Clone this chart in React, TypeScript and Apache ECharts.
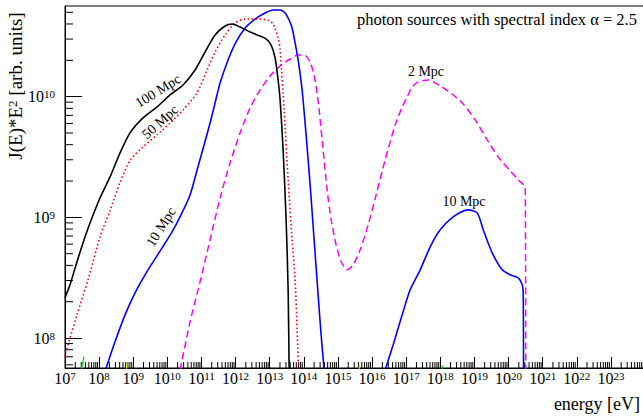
import React, { useEffect, useRef } from "react";
import * as echarts from "echarts";

// Axis ranges in log10 units
const X_MIN = 7;
const X_MAX = 24;
const Y_MIN = 7.752;
const Y_MAX = 10.751;

// Tick positions (log10 of the value)
const xMajorTicks = [7, 8, 9, 10, 11, 12, 13, 14, 15, 16, 17, 18, 19, 20, 21, 22, 23];
const yMajorTicks = [8, 9, 10];
const minorMultipliers = [2, 3, 4, 5, 6, 7, 8, 9];

// 100 Mpc (black, solid): log10 E [eV], log10 J*E^2
const mpc100LogE = [7.0, 7.147, 7.323, 7.528, 7.733, 8.026, 8.32, 8.613, 8.906, 9.287, 9.698, 10.079, 10.46, 10.812, 11.106, 11.399, 11.692, 11.897, 12.132, 12.425, 12.718, 12.894, 13.041, 13.158, 13.246, 13.305, 13.393, 13.481, 13.54, 13.569, 13.58];
const mpc100LogJ = [8.334, 8.441, 8.606, 8.788, 8.953, 9.16, 9.335, 9.534, 9.7, 9.824, 9.915, 10.014, 10.097, 10.221, 10.37, 10.511, 10.585, 10.602, 10.577, 10.536, 10.502, 10.478, 10.428, 10.32, 10.138, 9.973, 9.559, 8.979, 8.4, 7.754, 7.5];

// 50 Mpc (red, dotted)
const mpc50LogE = [7.0, 7.029, 7.352, 7.674, 8.026, 8.32, 8.613, 8.906, 9.287, 9.698, 10.079, 10.46, 10.871, 11.164, 11.399, 11.692, 11.985, 12.279, 12.66, 12.924, 13.1, 13.246, 13.305, 13.422, 13.54, 13.657, 13.745, 13.804, 13.848];
const mpc50LogJ = [7.845, 7.887, 8.193, 8.482, 8.839, 9.057, 9.29, 9.47, 9.584, 9.683, 9.782, 9.89, 10.031, 10.221, 10.37, 10.511, 10.61, 10.643, 10.643, 10.635, 10.602, 10.486, 10.387, 9.89, 9.31, 8.814, 8.482, 8.069, 7.7];

// 10 Mpc (blue, solid), low-energy bump
const mpc10aLogE = [8.188, 8.466, 8.76, 9.053, 9.434, 9.845, 10.138, 10.372, 10.666, 10.871, 11.076, 11.252, 11.399, 11.545, 11.78, 12.015, 12.279, 12.572, 12.865, 13.1, 13.305, 13.452, 13.569, 13.657, 13.745, 13.833, 13.95, 14.067, 14.185, 14.302, 14.419, 14.507, 14.595];
const mpc10aLogJ = [7.737, 7.969, 8.192, 8.375, 8.565, 8.747, 8.88, 9.004, 9.186, 9.393, 9.6, 9.782, 9.948, 10.113, 10.304, 10.453, 10.569, 10.643, 10.693, 10.718, 10.718, 10.693, 10.635, 10.569, 10.445, 10.304, 10.055, 9.683, 9.269, 8.814, 8.358, 8.028, 7.737];

// 10 Mpc (blue, solid), high-energy bump
const mpc10bLogE = [16.384, 16.619, 16.883, 17.117, 17.411, 17.704, 17.997, 18.378, 18.818, 19.082, 19.258, 19.522, 19.815, 20.05, 20.284, 20.402, 20.431, 20.44];
const mpc10bLogJ = [7.737, 7.944, 8.193, 8.4, 8.565, 8.756, 8.897, 9.004, 9.062, 9.037, 8.897, 8.706, 8.565, 8.524, 8.499, 8.441, 8.358, 7.7];

// 2 Mpc (magenta, dashed)
const mpc2LogE = [10.372, 10.666, 10.959, 11.252, 11.545, 11.839, 12.132, 12.425, 12.718, 13.012, 13.305, 13.598, 13.833, 14.009, 14.185, 14.331, 14.449, 14.566, 14.683, 14.801, 14.947, 15.094, 15.27, 15.446, 15.651, 15.886, 16.12, 16.384, 16.677, 16.883, 17.029, 17.176, 17.352, 17.645, 17.997, 18.349, 18.672, 19.023, 19.375, 19.698, 20.05, 20.284, 20.49, 20.504];
const mpc2LogJ = [7.737, 8.135, 8.466, 8.814, 9.161, 9.451, 9.699, 9.906, 10.055, 10.171, 10.254, 10.312, 10.345, 10.345, 10.287, 10.138, 9.89, 9.559, 9.228, 8.98, 8.772, 8.632, 8.565, 8.607, 8.731, 8.938, 9.186, 9.476, 9.766, 9.914, 9.998, 10.08, 10.122, 10.138, 10.089, 10.022, 9.939, 9.807, 9.642, 9.501, 9.386, 9.311, 9.245, 7.7];

// Faint curves just peeking above the lower edge
const greenLogE = [7.45, 7.557];
const greenLogJ = [7.7, 7.846];
const green2LogE = [18.05, 18.06];
const green2LogJ = [7.7, 7.77];
const yellowLogE = [8.8, 8.81];
const yellowLogJ = [7.7, 7.79];
const yellow2LogE = [15.62, 15.63];
const yellow2LogJ = [7.7, 7.78];

const SERIF = "'Liberation Serif', 'DejaVu Serif', serif";

function pairs(xs: number[], ys: number[]) {
  return xs.map((x, i) => [x, ys[i]]);
}

function minorList(lo: number, hi: number) {
  const out: number[] = [];
  for (let d = Math.floor(lo) - 1; d <= Math.ceil(hi); d++) {
    for (const m of minorMultipliers) {
      const v = d + Math.log10(m);
      if (v > lo && v < hi) out.push(v);
    }
  }
  return out;
}

const powLabel = (v: number) => `{b|10}{s|${Math.round(v)}}`;
const powRich = {
  b: { fontFamily: SERIF, fontSize: 16, lineHeight: 16, padding: [6, 0, 0, 0], verticalAlign: "bottom", color: "#000" },
  s: { fontFamily: SERIF, fontSize: 11, lineHeight: 11, verticalAlign: "top", color: "#000" },
};

export default function App() {
  const ref = useRef<HTMLDivElement>(null);
  useEffect(() => {
    if (!ref.current) return;
    const chart = echarts.init(ref.current, undefined, { renderer: "svg" });
    const xMinor = minorList(X_MIN, X_MAX);
    const yMinor = minorList(Y_MIN, Y_MAX);

    const line = (name: string, xs: number[], ys: number[], color: string, type: any, width: number) => ({
      name,
      type: "line",
      data: pairs(xs, ys),
      showSymbol: false,
      symbol: "none",
      smooth: 0.25,
      clip: true,
      lineStyle: { color, width, type },
      z: 3,
    });

    const option: any = {
      animation: false,
      grid: {
        left: 65,
        right: -2,
        top: 6,
        bottom: 49,
        show: true,
        borderColor: "#000",
        borderWidth: 1,
        backgroundColor: "transparent",
        outerBoundsMode: "none",
        containLabel: false,
      },
      xAxis: {
        type: "value",
        min: X_MIN,
        max: X_MAX,
        position: "bottom",
        axisLine: { show: true, onZero: false, lineStyle: { color: "#000", width: 1 } },
        axisTick: { show: true, inside: true, length: 11, customValues: xMajorTicks, lineStyle: { color: "#000", width: 1 } },
        axisLabel: { show: true, customValues: xMajorTicks, formatter: powLabel, rich: powRich, margin: 2 },
        splitLine: { show: false },
      },
      yAxis: {
        type: "value",
        min: Y_MIN,
        max: Y_MAX,
        position: "left",
        axisLine: { show: true, onZero: false, lineStyle: { color: "#000", width: 1 } },
        axisTick: { show: true, inside: true, length: 17, customValues: yMajorTicks, lineStyle: { color: "#000", width: 1 } },
        axisLabel: { show: true, customValues: yMajorTicks, formatter: powLabel, rich: powRich, margin: 10 },
        splitLine: { show: false },
      },
      series: [
        {
          type: "custom",
          name: "xminor",
          data: xMinor.map((v) => [v, Y_MIN]),
          renderItem: (_p: any, api: any) => {
            const c = api.coord([api.value(0), api.value(1)]);
            return { type: "line", shape: { x1: c[0], y1: c[1], x2: c[0], y2: c[1] - 6 }, style: { stroke: "#000", lineWidth: 1 } };
          },
          z: 1,
          silent: true,
        },
        {
          type: "custom",
          name: "yminor",
          data: yMinor.map((v) => [X_MIN, v]),
          renderItem: (_p: any, api: any) => {
            const c = api.coord([api.value(0), api.value(1)]);
            return { type: "line", shape: { x1: c[0], y1: c[1], x2: c[0] + 8, y2: c[1] }, style: { stroke: "#000", lineWidth: 1 } };
          },
          z: 1,
          silent: true,
        },
        line("green", greenLogE, greenLogJ, "#00dd00", "solid", 1.3),
        line("green2", green2LogE, green2LogJ, "#00dd00", "solid", 1.3),
        line("yellow", yellowLogE, yellowLogJ, "#e5e500", "solid", 1.3),
        line("yellow2", yellow2LogE, yellow2LogJ, "#e5e500", "solid", 1.3),
        line("2 Mpc", mpc2LogE, mpc2LogJ, "#ff00ff", [7, 4], 1.5),
        line("10 Mpc a", mpc10aLogE, mpc10aLogJ, "#0000ff", "solid", 1.6),
        line("10 Mpc b", mpc10bLogE, mpc10bLogJ, "#0000ff", "solid", 1.6),
        line("50 Mpc", mpc50LogE, mpc50LogJ, "#ff0000", [1.5, 2.5], 1.6),
        line("100 Mpc", mpc100LogE, mpc100LogJ, "#000000", "solid", 1.6),
      ],
      graphic: [
        {
          type: "text",
          x: 637,
          y: 19,
          style: { text: "photon sources with spectral index \u03b1 = 2.5", font: `16.5px ${SERIF}`, fill: "#000", align: "right", verticalAlign: "middle" },
        },
        {
          type: "text",
          x: 640,
          y: 404,
          style: { text: "energy [eV]", font: `18px ${SERIF}`, fill: "#000", align: "right", verticalAlign: "middle" },
        },
        {
          type: "text",
          x: 15,
          y: 86,
          rotation: Math.PI / 2,
          style: {
            text: "{n|J(E)*E}{s|2}{n| [arb. units]}",
            align: "center",
            verticalAlign: "middle",
            rich: {
              n: { fontFamily: SERIF, fontSize: 19, lineHeight: 19, padding: [5, 0, 0, 0], verticalAlign: "bottom", fill: "#000", color: "#000" },
              s: { fontFamily: SERIF, fontSize: 13, lineHeight: 13, verticalAlign: "top", fill: "#000", color: "#000" },
            },
          },
        },
        { type: "text", x: 158, y: 91, rotation: (32 * Math.PI) / 180, style: { text: "100 Mpc", font: `14px ${SERIF}`, fill: "#000", align: "center", verticalAlign: "middle" } },
        { type: "text", x: 160, y: 122, rotation: (42 * Math.PI) / 180, style: { text: "50 Mpc", font: `14px ${SERIF}`, fill: "#000", align: "center", verticalAlign: "middle" } },
        { type: "text", x: 161, y: 227, rotation: (58 * Math.PI) / 180, style: { text: "10 Mpc", font: `14px ${SERIF}`, fill: "#000", align: "center", verticalAlign: "middle" } },
        { type: "text", x: 426, y: 71, style: { text: "2 Mpc", font: `14px ${SERIF}`, fill: "#000", align: "center", verticalAlign: "middle" } },
        { type: "text", x: 464, y: 201, style: { text: "10 Mpc", font: `14px ${SERIF}`, fill: "#000", align: "center", verticalAlign: "middle" } },
      ],
    };
    chart.setOption(option);
    return () => chart.dispose();
  }, []);
  return <div ref={ref} style={{ width: 643, height: 417, position: "absolute", left: 0, top: 0, background: "#fff" }} />;
}
